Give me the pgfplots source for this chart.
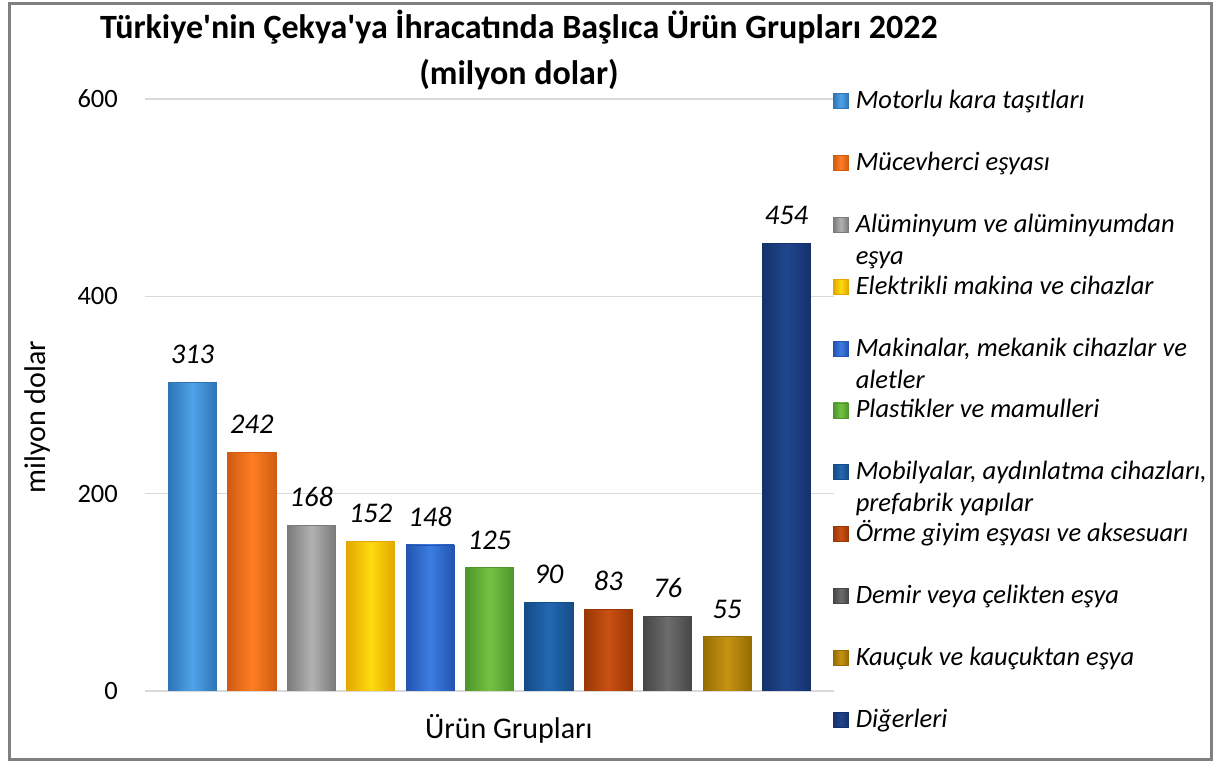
\documentclass[border=0pt]{standalone}
\usepackage{pgfplots}
\pgfplotsset{compat=1.18}
\usepackage{fontspec}
\setmainfont{Carlito}
\newfontfamily\plainfont{Carlito}
\definecolor{gridgray}{HTML}{D9D9D9}
\definecolor{framegray}{HTML}{808080}
\definecolor{c1e}{HTML}{2E75B6}\definecolor{c1m}{HTML}{4FA3E8}
\definecolor{c2e}{HTML}{CF5C12}\definecolor{c2m}{HTML}{FF7E22}
\definecolor{c3e}{HTML}{7A7A7A}\definecolor{c3m}{HTML}{B2B2B2}
\definecolor{c4e}{HTML}{E2A800}\definecolor{c4m}{HTML}{FFDA10}
\definecolor{c5e}{HTML}{2254B0}\definecolor{c5m}{HTML}{3D7DE2}
\definecolor{c6e}{HTML}{4C962A}\definecolor{c6m}{HTML}{74C243}
\definecolor{c7e}{HTML}{154C88}\definecolor{c7m}{HTML}{2269B2}
\definecolor{c8e}{HTML}{9A3805}\definecolor{c8m}{HTML}{CA5012}
\definecolor{c9e}{HTML}{474747}\definecolor{c9m}{HTML}{6C6C6C}
\definecolor{c10e}{HTML}{966C00}\definecolor{c10m}{HTML}{C59414}
\definecolor{c11e}{HTML}{16316A}\definecolor{c11m}{HTML}{20468F}
\pgfplotsset{
  mybar/.style n args={2}{ybar, bar width=0.81, bar shift=0pt,
    draw=#1, line width=0.8pt, left color=#1, right color=#1, middle color=#2,
    nodes near coords,
    legend image code/.code={\path[##1] (0pt,-5pt) rectangle (15pt,10pt);}},
}
\begin{document}
\begin{tikzpicture}[x=1pt,y=1pt]
\path[use as bounding box] (0,0) rectangle (1215,762);
\draw[framegray, line width=3pt] (9,2.5) rectangle (1211,758);
\begin{axis}[
  at={(145pt,71pt)}, anchor=south west,
  scale only axis, width=689pt, height=592pt,
  xmin=-0.8, xmax=10.8, ymin=0, ymax=600,
  ytick={0,200,400,600}, xtick=\empty,
  axis line style={draw=none}, major tick length=0pt,
  ymajorgrids, grid style={color=gridgray, line width=1.5pt},
  /pgf/number format/assume math mode=true,
  yticklabel style={font=\fontsize{26.5}{31}\selectfont, inner sep=0pt, anchor=east, xshift=-27pt},
  every node near coord/.append style={font=\fontsize{28.5}{33}\selectfont\itshape, inner sep=0pt, anchor=south, yshift=18pt, text=black},
  ylabel={milyon dolar},
  ylabel style={font=\fontsize{30}{36}\selectfont, at={(axis description cs:-0.1553,0.4628)}, rotate=0, anchor=center},
  xlabel={Ürün Grupları},
  xlabel style={font=\fontsize{30}{36}\selectfont, at={(axis description cs:0.528,-0.0794)}, anchor=base},
  title={Türkiye'nin Çekya'ya İhracatında Başlıca Ürün Grupları 2022\\(milyon dolar)},
  title style={font=\plainfont\bfseries\fontsize{34}{46}\selectfont, align=center, inner sep=0pt, at={(axis description cs:0.5428,1.140)}, anchor=north},
  legend cell align=left,
  legend style={at={(axis description cs:0.9985,1.0101)}, anchor=north west, draw=none, fill=none,
    inner sep=0pt, outer sep=0pt, row sep=41.5pt, column sep=7pt,
    font=\fontsize{26.5}{32}\selectfont\itshape,
    nodes={inner sep=0pt, text height=15pt, text depth=5pt}},
]
\addplot[mybar={c1e}{c1m}] coordinates {(0,313)};
\addplot[mybar={c2e}{c2m}] coordinates {(1,242)};
\addplot[mybar={c3e}{c3m}] coordinates {(2,168)};
\addplot[mybar={c4e}{c4m}] coordinates {(3,152)};
\addplot[mybar={c5e}{c5m}] coordinates {(4,148)};
\addplot[mybar={c6e}{c6m}] coordinates {(5,125)};
\addplot[mybar={c7e}{c7m}] coordinates {(6,90)};
\addplot[mybar={c8e}{c8m}] coordinates {(7,83)};
\addplot[mybar={c9e}{c9m}] coordinates {(8,76)};
\addplot[mybar={c10e}{c10m}] coordinates {(9,55)};
\addplot[mybar={c11e}{c11m}] coordinates {(10,454)};
\legend{Motorlu kara taşıtları,
  Mücevherci eşyası,
  {\smash{\begin{tabular}[t]{@{}l@{}}Alüminyum ve alüminyumdan\\eşya\end{tabular}}},
  Elektrikli makina ve cihazlar,
  {\smash{\begin{tabular}[t]{@{}l@{}}Makinalar, mekanik cihazlar ve\\aletler\end{tabular}}},
  Plastikler ve mamulleri,
  {\smash{\begin{tabular}[t]{@{}l@{}}Mobilyalar, aydınlatma cihazları,\\prefabrik yapılar\end{tabular}}},
  Örme giyim eşyası ve aksesuarı,
  Demir veya çelikten eşya,
  Kauçuk ve kauçuktan eşya,
  Diğerleri}
\end{axis}
\end{tikzpicture}
\end{document}
